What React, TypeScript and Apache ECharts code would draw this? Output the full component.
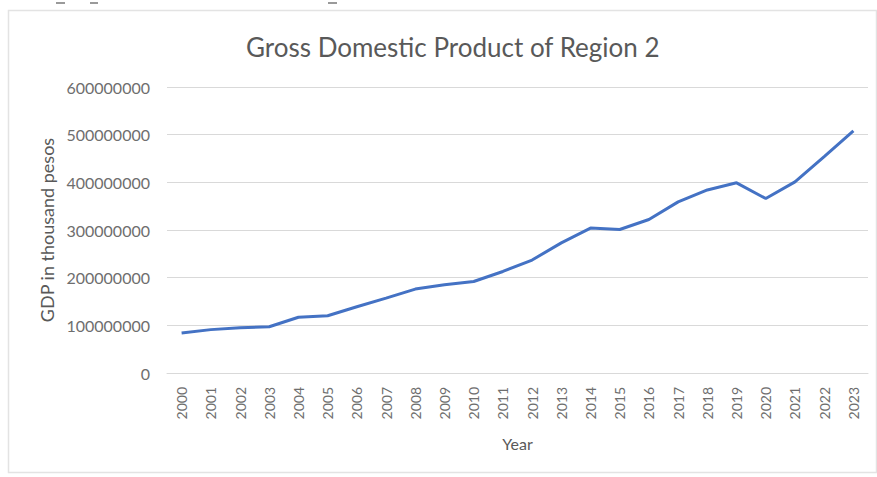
import React, { useEffect, useRef } from "react";
import * as echarts from "echarts";

const years = ["2000","2001","2002","2003","2004","2005","2006","2007","2008","2009","2010","2011","2012","2013","2014","2015","2016","2017","2018","2019","2020","2021","2022","2023"];
const gdp = [84000000, 91000000, 95000000, 97000000, 117000000, 120000000, 139000000, 157000000, 176000000, 185000000, 192000000, 213000000, 237000000, 273000000, 304000000, 301000000, 322000000, 359000000, 384000000, 399000000, 366000000, 401000000, 454000000, 508000000];
const yMin = 0;
const yMax = 600000000;
const yInterval = 100000000;

const FONT = "Lato";

export default function App() {
  const ref = useRef<HTMLDivElement>(null);
  useEffect(() => {
    if (!ref.current) return;
    const chart = echarts.init(ref.current, null, { renderer: "svg" });
    chart.setOption({
      animation: false,
      backgroundColor: "#ffffff",
      title: {
        text: "Gross Domestic Product of Region 2",
        left: 241,
        top: 29,
        textStyle: { fontFamily: FONT, fontSize: 26, fontWeight: "normal", color: "#595959" },
      },
      graphic: [
        { type: "rect", shape: { x: 8.5, y: 10.5, width: 868, height: 462 }, style: { fill: "none", stroke: "#e3e3e3", lineWidth: 1.5 }, silent: true },
        { type: "rect", shape: { x: 56, y: 2, width: 9, height: 2 }, style: { fill: "#9a9a9a" }, silent: true },
        { type: "rect", shape: { x: 90, y: 2, width: 8, height: 2 }, style: { fill: "#9a9a9a" }, silent: true },
        { type: "rect", shape: { x: 328, y: 2, width: 9, height: 2 }, style: { fill: "#9a9a9a" }, silent: true },
      ],
      grid: { left: 167, right: 9, top: 87, bottom: 104, containLabel: false },
      xAxis: {
        type: "category",
        data: years,
        boundaryGap: true,
        name: "Year",
        nameLocation: "middle",
        nameGap: 62,
        nameTextStyle: { fontFamily: FONT, fontSize: 16, color: "#595959" },
        axisLine: { lineStyle: { color: "#d9d9d9", width: 1 } },
        axisTick: { show: false },
        axisLabel: { rotate: 90, margin: 14, fontFamily: FONT, fontSize: 14, color: "#6e6e6e", interval: 0 },
      },
      yAxis: {
        type: "value",
        min: yMin,
        max: yMax,
        interval: yInterval,
        name: "GDP in thousand pesos",
        nameLocation: "middle",
        nameGap: 108,
        nameTextStyle: { fontFamily: FONT, fontSize: 18, color: "#595959" },
        axisLine: { show: false },
        axisTick: { show: false },
        splitLine: { lineStyle: { color: "#d9d9d9", width: 1 } },
        axisLabel: { margin: 17, fontFamily: FONT, fontSize: 16, color: "#6e6e6e", formatter: (v: number) => String(v) },
      },
      series: [
        {
          type: "line",
          data: gdp,
          symbol: "none",
          lineStyle: { color: "#4472C4", width: 3 },
          itemStyle: { color: "#4472C4" },
        },
      ],
    });
    return () => chart.dispose();
  }, []);
  return <div ref={ref} style={{ position: "fixed", left: 0, top: 0, width: 877, height: 477 }} />;
}
